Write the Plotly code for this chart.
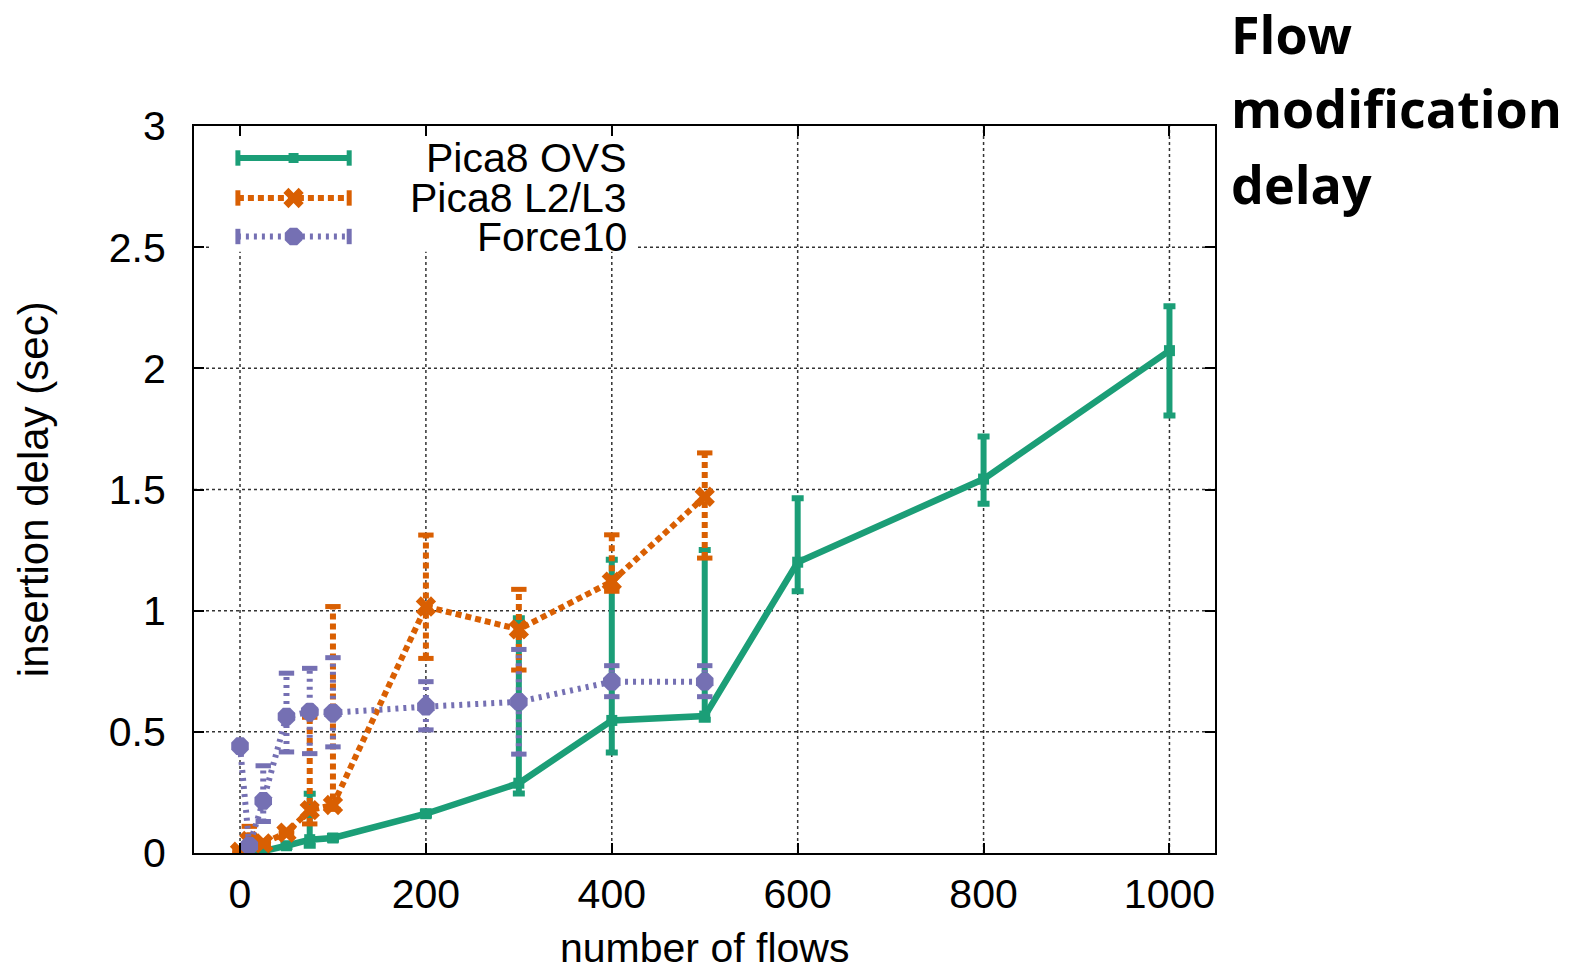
import plotly.graph_objects as go

# ---- data: insertion delay (sec) vs number of flows ----
flows_ovs = [0, 10, 25, 50, 75, 100, 200, 300, 400, 500, 600, 800, 1000]
delay_ovs = [0.003, 0.006, 0.008, 0.030, 0.055, 0.062, 0.162, 0.288, 0.547, 0.565, 1.200, 1.543, 2.073]
ovs_hi = [0.003, 0.006, 0.010, 0.035, 0.245, 0.070, 0.170, 0.969, 1.210, 1.250, 1.464, 1.719, 2.256]
ovs_lo = [0.000, 0.000, 0.005, 0.025, 0.030, 0.055, 0.155, 0.246, 0.415, 0.550, 1.080, 1.441, 1.805]

flows_l23 = [0, 10, 25, 50, 75, 100, 200, 300, 400, 500]
delay_l23 = [0.005, 0.050, 0.040, 0.084, 0.177, 0.198, 1.017, 0.923, 1.120, 1.470]
l23_hi = [0.010, 0.110, 0.050, 0.090, 0.560, 1.017, 1.312, 1.088, 1.313, 1.651]
l23_lo = [0.000, 0.020, 0.035, 0.080, 0.120, 0.180, 0.803, 0.755, 1.080, 1.217]

flows_f10 = [0, 10, 25, 50, 75, 100, 200, 300, 400, 500]
delay_f10 = [0.441, 0.030, 0.215, 0.563, 0.583, 0.579, 0.604, 0.624, 0.707, 0.707]
f10_hi = [0.441, 0.030, 0.360, 0.742, 0.762, 0.806, 0.707, 0.840, 0.773, 0.773]
f10_lo = [0.441, 0.030, 0.130, 0.417, 0.410, 0.438, 0.508, 0.408, 0.645, 0.645]

series_names = ["Pica8 OVS", "Pica8 L2/L3", "Force10"]
x_ticks = [0, 200, 400, 600, 800, 1000]
y_ticks = [0, 0.5, 1, 1.5, 2, 2.5, 3]

GREEN = "#1b9e77"
ORANGE = "#d95f02"
PURPLE = "#7570b3"
GRID = dict(color="#333333", width=1.5, dash="dot")
TICK_FONT = dict(family="Liberation Sans, Arial, sans-serif", size=41, color="black")

fig = go.Figure()

# ---- dotted grid, drawn as shapes so the key box can sit on top of it ----
for xv in x_ticks:
    fig.add_shape(type="line", xref="x", yref="paper", x0=xv, x1=xv, y0=0, y1=1,
                  line=GRID, layer="below")
for yv in y_ticks[1:-1]:
    fig.add_shape(type="line", xref="paper", yref="y", x0=0, x1=1, y0=yv, y1=yv,
                  line=GRID, layer="below")
# opaque key box hides the grid behind the entries
fig.add_shape(type="rect", xref="paper", yref="paper", x0=0.017, x1=0.432, y0=0.827, y1=0.997,
              fillcolor="white", line=dict(width=0), layer="below")


def dashed_errorbars(xs, lo, hi, color, dash, width):
    """Vertical error bars drawn as dashed segments with end caps."""
    sx, sy = [], []
    for x, a, b in zip(xs, lo, hi):
        sx += [x, x, None]
        sy += [a, b, None]
    fig.add_trace(go.Scatter(x=sx, y=sy, mode="lines", showlegend=False, hoverinfo="skip",
                             line=dict(color=color, width=width, dash=dash)))
    fig.add_trace(go.Scatter(x=list(xs) + list(xs), y=list(lo) + list(hi), mode="markers",
                             showlegend=False, hoverinfo="skip",
                             marker=dict(symbol="line-ew", size=11,
                                         line=dict(color=color, width=5))))


# Pica8 OVS: solid line with solid error bars
fig.add_trace(go.Scatter(
    x=flows_ovs, y=delay_ovs, mode="lines+markers", name=series_names[0], showlegend=False,
    line=dict(color=GREEN, width=6.5),
    marker=dict(symbol="square", size=11, color=GREEN),
    error_y=dict(type="data", symmetric=False,
                 array=[h - v for h, v in zip(ovs_hi, delay_ovs)],
                 arrayminus=[v - l for v, l in zip(delay_ovs, ovs_lo)],
                 color=GREEN, thickness=6, width=6),
))

# Pica8 L2/L3: dashed
dashed_errorbars(flows_l23, l23_lo, l23_hi, ORANGE, "6px,4px", 6)
fig.add_trace(go.Scatter(
    x=flows_l23, y=delay_l23, mode="lines+markers", name=series_names[1], showlegend=False,
    line=dict(color=ORANGE, width=6, dash="6px,4px"),
    marker=dict(symbol="x", size=18, color=ORANGE, line=dict(width=0)),
))

# Force10: dotted
dashed_errorbars(flows_f10, f10_lo, f10_hi, PURPLE, "3px,5px", 6)
fig.add_trace(go.Scatter(
    x=flows_f10, y=delay_f10, mode="lines+markers", name=series_names[2], showlegend=False,
    line=dict(color=PURPLE, width=6, dash="3px,5px"),
    marker=dict(symbol="octagon", size=19, color=PURPLE, line=dict(width=0)),
))

# ---- key (drawn on an overlay axis spanning the plot area, 0..1 both ways) ----
key_styles = [
    (GREEN, "solid", "square", 10),
    (ORANGE, "6px,4px", "x", 18),
    (PURPLE, "3px,5px", "octagon", 19),
]
key_rows = [0.956, 0.901, 0.848]
key_x0, key_x1, key_xm = 0.043, 0.152, 0.0975
key_text_right = 0.426

for name, (color, dash, sym, msize), ky in zip(series_names, key_styles, key_rows):
    fig.add_trace(go.Scatter(
        x=[key_x0, key_x1], y=[ky, ky], mode="lines", xaxis="x2", yaxis="y2",
        showlegend=False, hoverinfo="skip", line=dict(color=color, width=6, dash=dash)))
    fig.add_trace(go.Scatter(
        x=[key_x0, key_x1], y=[ky, ky], mode="markers", xaxis="x2", yaxis="y2",
        showlegend=False, hoverinfo="skip",
        marker=dict(symbol="line-ns", size=11, line=dict(color=color, width=5))))
    fig.add_trace(go.Scatter(
        x=[key_xm], y=[ky], mode="markers", xaxis="x2", yaxis="y2",
        showlegend=False, hoverinfo="skip",
        marker=dict(symbol=sym, size=msize, color=color, line=dict(width=0))))
    fig.add_annotation(x=key_text_right, y=ky, xref="x2", yref="y2", text=name,
                       showarrow=False, xanchor="right", yanchor="middle", font=TICK_FONT)

axis_common = dict(
    showline=True, linecolor="black", linewidth=2, mirror="ticks",
    ticks="inside", ticklen=10, tickwidth=2, tickcolor="black",
    showgrid=False, zeroline=False, tickfont=TICK_FONT,
)

fig.update_layout(
    width=1577, height=970,
    margin=dict(l=194, r=362, t=126, b=117),
    paper_bgcolor="white", plot_bgcolor="white",
    showlegend=False,
    xaxis=dict(range=[-49.5, 1049], tickvals=x_ticks, ticklabelstandoff=4, **axis_common),
    yaxis=dict(range=[0, 3], tickvals=y_ticks, ticklabelstandoff=18, **axis_common),
    xaxis2=dict(overlaying="x", range=[0, 1], visible=False, fixedrange=True),
    yaxis2=dict(overlaying="y", range=[0, 1], visible=False, fixedrange=True),
)

# axis titles
fig.add_annotation(text="number of flows", xref="paper", yref="paper", x=0.5, y=-0.131,
                   xanchor="center", yanchor="middle", showarrow=False, font=TICK_FONT)
fig.add_annotation(text="insertion delay (sec)", xref="paper", yref="paper", x=-0.157, y=0.5,
                   xanchor="center", yanchor="middle", textangle=-90, showarrow=False,
                   font=dict(TICK_FONT, size=42))

# heading at the right
TITLE_FONT = dict(family="Open Sans, sans-serif", size=52, color="black", weight="bold")
for line, ty in zip(["Flow", "modification", "delay"], [1.127, 1.026, 0.921]):
    fig.add_annotation(text=line, xref="paper", yref="paper", x=1.0135, y=ty,
                       xanchor="left", yanchor="middle", showarrow=False, font=TITLE_FONT)

fig.write_html("out.html")
